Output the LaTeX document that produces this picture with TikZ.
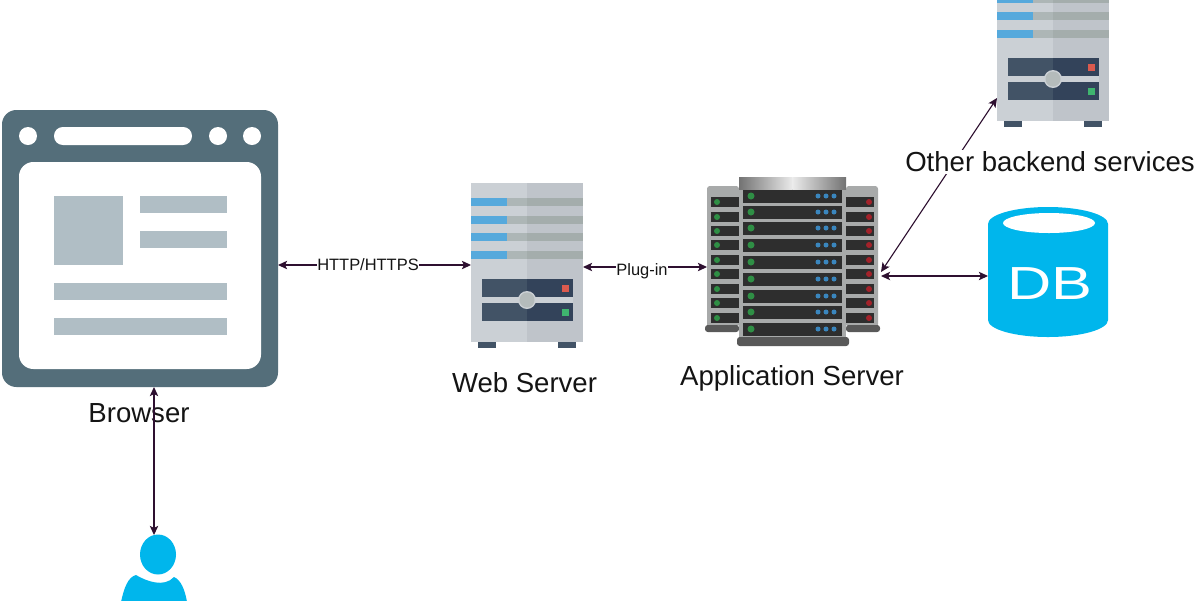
\documentclass[tikz,border=0pt]{standalone}
\usepackage{fontspec}
\setmainfont{Liberation Sans}
\usetikzlibrary{positioning}
\usetikzlibrary{arrows.meta}
\definecolor{linkcol}{HTML}{2E1030}
\definecolor{slatecol}{HTML}{546E7A}
\definecolor{palecol}{HTML}{B0BEC5}
\definecolor{cyancol}{HTML}{00B6EC}
\definecolor{caseL}{HTML}{CBD0D5}
\definecolor{caseR}{HTML}{BFC4CA}
\definecolor{slotL}{HTML}{ADB6B6}
\definecolor{slotR}{HTML}{A4ADAC}
\definecolor{slotblue}{HTML}{56A9DC}
\definecolor{panelL}{HTML}{425366}
\definecolor{panelR}{HTML}{33435A}
\definecolor{knobcol}{HTML}{B4BBBB}
\definecolor{ledred}{HTML}{DB5A4E}
\definecolor{ledgreen}{HTML}{3FB56F}
\definecolor{rackgrey}{HTML}{A8AAAA}
\definecolor{rackbar}{HTML}{2E2E2E}
\definecolor{rackblue}{HTML}{3A86BE}
\definecolor{rackgreen}{HTML}{2F8F45}
\definecolor{rackred}{HTML}{A3222A}
\tikzset{
  iconbox/.style = {inner sep = 0pt, outer sep = 0pt},
  link/.style = {{Stealth[length=6.5pt,width=6pt,inset=1.5pt]}-{Stealth[length=6.5pt,width=6pt,inset=1.5pt]}, color = linkcol, line width = 0.8pt},
  biglabel/.style = {font = \fontsize{19.6}{22}\selectfont, text = black!92},
  smalllabel/.style = {font = \fontsize{11.7}{13}\selectfont, text = black!92, fill = white, inner sep = 0.5pt},
  serverunit/.pic = {
    \fill[caseL] (0,0) rectangle (56,159);
    \fill[caseR] (56,0) rectangle (112,159);
    \foreach \y in {15,33,50,68} {
      \fill[slotL] (36,\y) rectangle (56,\y+8);
      \fill[slotR] (56,\y) rectangle (112,\y+8);
      \fill[slotblue] (0,\y) rectangle (36,\y+8);
    }
    \fill[panelL] (11,96) rectangle (56,114);
    \fill[panelL] (11,120) rectangle (56,138);
    \fill[panelR] (56,96) rectangle (102,114);
    \fill[panelR] (56,120) rectangle (102,138);
    \fill[caseL] (11,114) rectangle (102,120);
    \fill[caseL] (56,117) circle (9);
    \fill[knobcol] (56,117) circle (7.5);
    \fill[ledred] (90.5,101.5) rectangle (97.5,108.5);
    \fill[ledgreen] (90.5,125.5) rectangle (97.5,132.5);
    \fill[panelL] (7,159) rectangle (25,165);
    \fill[panelL] (87,159) rectangle (105,165);
  }
}
\begin{document}
\begin{tikzpicture}[x=0.025cm, y=-0.025cm]
  \useasboundingbox (0,0) rectangle (1200,600);
  \clip (0,0) rectangle (1200,600);
  \fill[white] (0,0) rectangle (1200,600);
  % browser window
  \node[iconbox, minimum width = 276*0.025cm, minimum height = 277*0.025cm] (browser) at (140,248.5) {};
  \fill[slatecol, rounded corners = 0.36cm] (2,110) rectangle (278,387);
  \fill[white, rounded corners = 0.36cm] (19,162) rectangle (261,369);
  \fill[white] (28,136) circle (9);
  \fill[white] (218,136) circle (9);
  \fill[white] (252,136) circle (9);
  \fill[white, rounded corners = 0.22cm] (54,127) rectangle (192,145);
  \fill[palecol] (54,196) rectangle (123,265);
  \fill[palecol] (140,196) rectangle (227,213);
  \fill[palecol] (140,231) rectangle (227,248);
  \fill[palecol] (54,283) rectangle (227,300);
  \fill[palecol] (54,318) rectangle (227,335);
  \node[biglabel] (browserlabel) at (139,413) {Browser};
  % person
  \node[iconbox, minimum width = 64*0.025cm, minimum height = 65*0.025cm] (user) at (154,567.5) {};
  \fill[cyancol] (158,554.5) ellipse (18 and 20);
  \fill[cyancol] (121,602) .. controls (124,588) and (128,577) .. (136,575) .. controls (146,581) and (164,588) .. (174,577) .. controls (181,580) and (185,590) .. (187,602) -- cycle;
  % web server
  \node[iconbox, minimum width = 112*0.025cm, minimum height = 160*0.025cm] (web) at (527,265) {};
  \pic at (471,183) {serverunit};
  \node[biglabel] (weblabel) at (524.5,383) {Web Server};
  % application server
  \node[iconbox, minimum width = 174*0.025cm, minimum height = 158*0.025cm] (app) at (794,267) {};
  \fill[rackgrey, rounded corners = 2pt] (707,186) rectangle (739,327);
  \fill[rackgrey, rounded corners = 2pt] (846,186) rectangle (878,327);
  \fill[black!65, rounded corners = 2pt] (705,325) rectangle (739,332);
  \fill[black!65, rounded corners = 2pt] (846,325) rectangle (880,332);
  \foreach \y in {202,217,231,245,260,274,289,303,318} {
    \fill[rackbar] (711,\y-5) rectangle (739,\y+5);
    \fill[rackbar] (846,\y-5) rectangle (874,\y+5);
    \fill[rackgreen] (717,\y) circle (3);
    \fill[rackred] (869,\y) circle (3);
  }
  \fill[rackgrey] (739,186) rectangle (846,340);
  \shade[left color = black!55, right color = black!8] (739,177) rectangle (792.5,189);
  \shade[left color = black!8, right color = black!55] (792.5,177) rectangle (846,189);
  \fill[black!65, rounded corners = 2pt] (737,337) rectangle (849,346);
  \foreach \y in {196,212,228,245,262,279,296,312,329} {
    \fill[rackbar] (743,\y-6.5) rectangle (842,\y+6.5);
    \fill[rackgreen] (751,\y) circle (3.5);
    \fill[rackblue] (818,\y) circle (2.5);
    \fill[rackblue] (826,\y) circle (2.5);
    \fill[rackblue] (834,\y) circle (2.5);
  }
  \node[biglabel] (applabel) at (792,378) {Application Server};
  % backend server
  \pic at (997,-38) {serverunit};
  \node[iconbox, minimum width = 112*0.025cm, minimum height = 46*0.025cm] (backend) at (1053,98) {};
  % database
  \node[iconbox, minimum width = 120*0.025cm, minimum height = 122*0.025cm] (db) at (1048,276) {};
  \fill[cyancol] (988,224) arc[start angle = 180, end angle = 0, x radius = 60, y radius = -17] -- (1108,320) arc[start angle = 0, end angle = -180, x radius = 60, y radius = -17] -- cycle;
  \fill[white] (1049,223) ellipse (46 and 10);
  \node[iconbox, text = white, font = \fontsize{33}{33}\selectfont, xscale = 1.32] (dbtext) at (1050,284) {DB};
  % links
  \coordinate (appport) at (881,272);
  \draw[link] (browser.east |- web.west) -- (web.west);
  \draw[link] (web.east |- app.west) -- (app.west);
  \draw[link] (appport) -- (backend.west);
  \draw[link] (app.east |- db.west) -- (db.west);
  \draw[link] (browser.south -| user.north) -- (user.north);
  \node[smalllabel] (httplabel) at (368,265) {HTTP/HTTPS};
  \node[smalllabel] (pluglabel) at (642,271) {Plug-in};
  \node[biglabel, fill = white, inner sep = 1pt] (backendlabel) at (1050,162) {Other backend services};
\end{tikzpicture}
\end{document}
